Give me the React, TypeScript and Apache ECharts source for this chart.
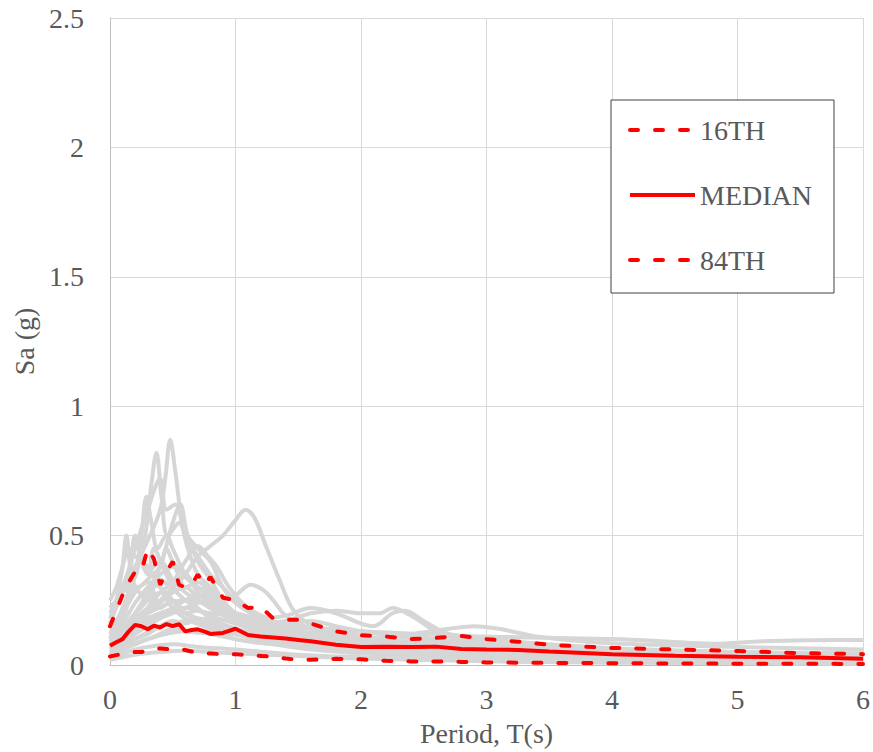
import React, { useEffect, useRef } from "react";
import * as echarts from "echarts";

// Shared periods (s) for the statistic curves
const PERIODS = [0, 0.05, 0.1, 0.15, 0.2, 0.25, 0.3, 0.35, 0.4, 0.45, 0.5, 0.55, 0.6, 0.65, 0.7, 0.75, 0.8, 0.9, 1.0, 1.1, 1.2, 1.3, 1.4, 1.5, 1.6, 1.8, 2.0, 2.2, 2.4, 2.6, 2.8, 3.0, 3.25, 3.5, 4.0, 4.5, 5.0, 5.5, 6.0];

const P84 = [0.15, 0.21, 0.27, 0.32, 0.36, 0.36, 0.45, 0.41, 0.31, 0.36, 0.40, 0.31, 0.30, 0.31, 0.35, 0.31, 0.34, 0.26, 0.25, 0.22, 0.225, 0.18, 0.175, 0.175, 0.16, 0.13, 0.115, 0.11, 0.10, 0.105, 0.112, 0.10, 0.09, 0.078, 0.066, 0.06, 0.054, 0.046, 0.042];
const MEDIAN = [0.074, 0.088, 0.1, 0.13, 0.155, 0.15, 0.138, 0.152, 0.145, 0.158, 0.15, 0.158, 0.13, 0.135, 0.138, 0.13, 0.12, 0.124, 0.14, 0.116, 0.11, 0.106, 0.102, 0.097, 0.092, 0.078, 0.07, 0.071, 0.07, 0.071, 0.062, 0.06, 0.058, 0.052, 0.042, 0.036, 0.032, 0.03, 0.024];
const P16 = [0.033, 0.038, 0.043, 0.048, 0.05, 0.05, 0.056, 0.06, 0.064, 0.062, 0.06, 0.062, 0.058, 0.052, 0.048, 0.045, 0.044, 0.042, 0.042, 0.038, 0.035, 0.032, 0.025, 0.02, 0.02, 0.024, 0.022, 0.016, 0.014, 0.014, 0.012, 0.01, 0.009, 0.008, 0.007, 0.006, 0.005, 0.005, 0.004];

// Individual ground-motion spectra: [period, Sa]
const GRAY_RECORDS: number[][][] = [
  [[0,0.16],[0.1,0.28],[0.2,0.38],[0.3,0.48],[0.4,0.6],[0.44,0.72],[0.48,0.87],[0.52,0.75],[0.58,0.55],[0.7,0.4],[0.8,0.33],[0.9,0.25],[1.0,0.2],[1.2,0.15],[1.5,0.11],[2.0,0.08],[2.5,0.06],[3,0.05],[4,0.035],[5,0.025],[6,0.02]],
  [[0,0.12],[0.1,0.22],[0.2,0.35],[0.28,0.5],[0.33,0.7],[0.37,0.82],[0.41,0.65],[0.46,0.5],[0.55,0.55],[0.62,0.45],[0.7,0.35],[0.8,0.3],[0.9,0.22],[1.0,0.18],[1.2,0.14],[1.5,0.1],[2,0.07],[2.5,0.055],[3,0.045],[4,0.03],[5,0.022],[6,0.018]],
  [[0,0.2],[0.1,0.3],[0.2,0.45],[0.3,0.6],[0.4,0.72],[0.45,0.6],[0.52,0.62],[0.6,0.5],[0.7,0.42],[0.8,0.35],[0.9,0.3],[1.0,0.25],[1.2,0.18],[1.4,0.14],[1.7,0.11],[2,0.09],[2.5,0.07],[3,0.06],[4,0.04],[5,0.03],[6,0.025]],
  [[0,0.08],[0.1,0.12],[0.2,0.18],[0.3,0.22],[0.4,0.25],[0.5,0.3],[0.6,0.35],[0.7,0.42],[0.8,0.46],[0.9,0.5],[1.0,0.56],[1.08,0.6],[1.15,0.57],[1.25,0.45],[1.35,0.33],[1.45,0.22],[1.55,0.17],[1.7,0.14],[2,0.11],[2.5,0.08],[3,0.06],[4,0.045],[5,0.035],[6,0.03]],
  [[0,0.18],[0.05,0.25],[0.1,0.38],[0.13,0.5],[0.17,0.35],[0.22,0.3],[0.3,0.32],[0.4,0.3],[0.5,0.25],[0.6,0.2],[0.8,0.16],[1.0,0.12],[1.3,0.09],[1.6,0.07],[2,0.05],[2.5,0.04],[3,0.03],[4,0.02],[5,0.015],[6,0.012]],
  [[0,0.1],[0.1,0.18],[0.2,0.35],[0.25,0.5],[0.29,0.65],[0.33,0.55],[0.38,0.45],[0.45,0.5],[0.5,0.45],[0.6,0.35],[0.7,0.3],[0.8,0.28],[0.9,0.22],[1,0.18],[1.2,0.13],[1.5,0.1],[2,0.07],[2.5,0.05],[3,0.04],[4,0.03],[5,0.02],[6,0.016]],
  [[0,0.09],[0.1,0.14],[0.2,0.2],[0.3,0.28],[0.4,0.38],[0.5,0.55],[0.56,0.62],[0.62,0.5],[0.7,0.45],[0.8,0.4],[0.9,0.3],[1.0,0.24],[1.2,0.18],[1.4,0.14],[1.7,0.1],[2,0.08],[2.5,0.06],[3,0.05],[4,0.035],[5,0.025],[6,0.02]],
  [[0,0.07],[0.1,0.1],[0.2,0.15],[0.3,0.22],[0.4,0.28],[0.5,0.32],[0.6,0.4],[0.7,0.46],[0.78,0.42],[0.85,0.38],[0.95,0.3],[1.1,0.22],[1.3,0.17],[1.5,0.13],[1.8,0.1],[2.2,0.08],[2.6,0.06],[3,0.05],[4,0.035],[5,0.025],[6,0.02]],
  [[0,0.06],[0.1,0.08],[0.2,0.12],[0.3,0.15],[0.4,0.18],[0.5,0.2],[0.6,0.22],[0.7,0.24],[0.8,0.25],[0.9,0.26],[1.0,0.27],[1.12,0.31],[1.22,0.29],[1.3,0.25],[1.4,0.19],[1.55,0.15],[1.8,0.12],[2.1,0.1],[2.5,0.08],[3,0.06],[4,0.045],[5,0.035],[6,0.03]],
  [[0,0.05],[0.2,0.1],[0.4,0.15],[0.6,0.17],[0.8,0.18],[1.0,0.17],[1.2,0.16],[1.4,0.17],[1.6,0.2],[1.8,0.21],[2.0,0.2],[2.15,0.2],[2.25,0.22],[2.4,0.19],[2.6,0.13],[2.8,0.1],[3.0,0.09],[3.5,0.07],[4,0.06],[5,0.045],[6,0.035]],
  [[0,0.08],[0.2,0.14],[0.4,0.2],[0.6,0.22],[0.8,0.2],[1.0,0.19],[1.2,0.18],[1.4,0.19],[1.6,0.22],[1.8,0.2],[2.0,0.16],[2.1,0.15],[2.25,0.2],[2.35,0.21],[2.5,0.17],[2.7,0.12],[3,0.1],[3.5,0.08],[4,0.065],[5,0.05],[6,0.04]],
  [[0,0.04],[0.3,0.1],[0.6,0.13],[1.0,0.12],[1.5,0.11],[2.0,0.1],[2.4,0.12],[2.7,0.14],[2.9,0.15],[3.1,0.14],[3.4,0.11],[3.8,0.09],[4.2,0.08],[5,0.07],[6,0.06]],
  [[0,0.1],[0.3,0.2],[0.6,0.25],[1.0,0.2],[1.5,0.15],[2,0.13],[2.5,0.12],[3,0.11],[3.5,0.105],[4,0.1],[4.4,0.092],[4.8,0.082],[5.2,0.092],[5.6,0.096],[6,0.097]],
  [[0,0.25],[0.05,0.3],[0.1,0.38],[0.15,0.45],[0.2,0.42],[0.3,0.38],[0.4,0.3],[0.5,0.25],[0.6,0.2],[0.8,0.15],[1.0,0.12],[1.3,0.09],[1.6,0.07],[2,0.055],[2.5,0.045],[3,0.035],[4,0.025],[5,0.02],[6,0.015]],
  [[0,0.22],[0.1,0.28],[0.2,0.34],[0.25,0.42],[0.3,0.36],[0.4,0.4],[0.5,0.33],[0.6,0.28],[0.7,0.25],[0.8,0.22],[1.0,0.17],[1.2,0.14],[1.5,0.11],[2,0.08],[2.5,0.06],[3,0.05],[4,0.04],[5,0.03],[6,0.025]],
  [[0,0.04],[0.1,0.06],[0.2,0.08],[0.3,0.1],[0.4,0.12],[0.5,0.14],[0.6,0.13],[0.8,0.12],[1.0,0.1],[1.3,0.08],[1.6,0.07],[2,0.05],[2.5,0.04],[3,0.03],[4,0.02],[5,0.015],[6,0.01]],
  [[0,0.03],[0.1,0.045],[0.2,0.06],[0.3,0.07],[0.5,0.08],[0.7,0.07],[1.0,0.06],[1.5,0.04],[2,0.03],[3,0.015],[4,0.01],[5,0.008],[6,0.006]],
  [[0,0.06],[0.1,0.1],[0.2,0.15],[0.3,0.2],[0.35,0.28],[0.4,0.22],[0.5,0.25],[0.6,0.2],[0.7,0.18],[0.8,0.16],[1.0,0.12],[1.2,0.1],[1.5,0.08],[2,0.06],[2.5,0.05],[3,0.04],[4,0.03],[5,0.02],[6,0.015]],
  [[0,0.09],[0.1,0.13],[0.2,0.2],[0.3,0.25],[0.4,0.33],[0.5,0.3],[0.6,0.35],[0.7,0.28],[0.8,0.24],[0.9,0.2],[1.0,0.18],[1.2,0.15],[1.5,0.12],[1.8,0.1],[2.2,0.08],[2.6,0.065],[3,0.055],[4,0.04],[5,0.03],[6,0.025]],
  [[0,0.05],[0.1,0.07],[0.2,0.1],[0.3,0.12],[0.4,0.15],[0.5,0.17],[0.6,0.16],[0.7,0.18],[0.8,0.17],[1.0,0.14],[1.2,0.12],[1.5,0.1],[1.8,0.09],[2,0.085],[2.5,0.07],[3,0.06],[3.5,0.05],[4,0.04],[5,0.03],[6,0.025]],
  [[0,0.12],[0.1,0.18],[0.15,0.25],[0.2,0.3],[0.25,0.27],[0.3,0.25],[0.4,0.28],[0.5,0.22],[0.6,0.18],[0.8,0.14],[1.0,0.1],[1.3,0.08],[1.6,0.06],[2,0.045],[2.5,0.035],[3,0.03],[4,0.02],[5,0.015],[6,0.012]],
  [[0,0.07],[0.1,0.1],[0.2,0.14],[0.3,0.18],[0.4,0.2],[0.5,0.22],[0.6,0.25],[0.7,0.27],[0.8,0.25],[0.9,0.22],[1.0,0.2],[1.2,0.17],[1.4,0.16],[1.6,0.17],[1.8,0.15],[2,0.13],[2.3,0.11],[2.6,0.09],[3,0.075],[3.5,0.06],[4,0.05],[5,0.04],[6,0.035]],
  [[0,0.02],[0.1,0.03],[0.2,0.04],[0.4,0.05],[0.6,0.055],[0.8,0.05],[1.0,0.045],[1.5,0.035],[2,0.025],[3,0.015],[4,0.01],[5,0.007],[6,0.005]],
  [[0,0.14],[0.1,0.2],[0.2,0.28],[0.3,0.33],[0.4,0.38],[0.45,0.45],[0.5,0.4],[0.6,0.34],[0.7,0.3],[0.8,0.26],[0.9,0.24],[1.0,0.2],[1.2,0.16],[1.5,0.12],[1.7,0.13],[1.9,0.12],[2.2,0.1],[2.6,0.08],[3,0.065],[4,0.045],[5,0.035],[6,0.03]],
  [[0,0.08],[0.1,0.12],[0.2,0.16],[0.3,0.2],[0.4,0.24],[0.5,0.28],[0.6,0.3],[0.7,0.26],[0.8,0.22],[1.0,0.18],[1.2,0.16],[1.4,0.15],[1.6,0.14],[1.8,0.14],[2.0,0.13],[2.3,0.12],[2.6,0.1],[3,0.085],[3.5,0.07],[4,0.06],[4.5,0.055],[5,0.05],[6,0.045]],
  [[0,0.1],[0.1,0.2],[0.15,0.3],[0.2,0.5],[0.25,0.4],[0.3,0.35],[0.35,0.45],[0.42,0.38],[0.5,0.3],[0.6,0.25],[0.7,0.22],[0.8,0.18],[1.0,0.14],[1.3,0.1],[1.6,0.08],[2,0.06],[2.5,0.05],[3,0.04],[4,0.03],[5,0.02],[6,0.015]],
  [[0,0.11],[0.1,0.16],[0.2,0.24],[0.3,0.3],[0.4,0.35],[0.5,0.38],[0.6,0.3],[0.7,0.32],[0.8,0.28],[0.9,0.23],[1.0,0.2],[1.2,0.16],[1.5,0.13],[1.8,0.11],[2.2,0.09],[2.6,0.075],[3,0.065],[4,0.05],[5,0.04],[6,0.035]],
  [[0,0.06],[0.1,0.09],[0.2,0.12],[0.3,0.16],[0.4,0.19],[0.5,0.21],[0.6,0.2],[0.7,0.21],[0.8,0.19],[1.0,0.16],[1.2,0.13],[1.5,0.11],[1.8,0.1],[2.1,0.09],[2.5,0.08],[3,0.07],[3.5,0.06],[4,0.05],[5,0.04],[6,0.03]],
];

const X_TICKS = { min: 0, max: 6, interval: 1 };
const Y_TICKS = { min: 0, max: 2.5, interval: 0.5 };

const FONT = "Liberation Serif";
const TEXT_COLOR = "#595959";

export default function App() {
  const ref = useRef<HTMLDivElement>(null);

  useEffect(() => {
    if (!ref.current) return;
    const chart = echarts.init(ref.current, null, { renderer: "svg" });

    const pair = (vals: number[]) => PERIODS.map((p, i) => [p, vals[i]]);

    const graySeries = GRAY_RECORDS.map((rec, i) => ({
      name: "GM" + (i + 1),
      type: "line",
      data: rec,
      smooth: 0.35,
      symbol: "none",
      silent: true,
      lineStyle: { color: "#d6d6d6", width: 4 },
      z: 2,
    }));

    const redDash = { color: "#ff0000", width: 4, type: [8, 17], cap: "round" };

    const option: any = {
      animation: false,
      textStyle: { fontFamily: FONT },
      grid: { left: 110, right: 7, top: 18, bottom: 86, containLabel: false },
      legend: {
        data: ["16TH", "MEDIAN", "84TH"],
        orient: "vertical",
        left: 611,
        top: 100,
        itemWidth: 65,
        itemHeight: 28,
        itemGap: 37,
        padding: [16, 22, 19, 17],
        borderColor: "#404040",
        borderWidth: 1,
        backgroundColor: "#ffffff",
        itemStyle: { color: "rgba(0,0,0,0)", borderWidth: 0, opacity: 0 },
        lineStyle: { width: 4 },
        textStyle: { fontFamily: FONT, fontSize: 28, color: TEXT_COLOR, lineHeight: 28 },
      },
      xAxis: {
        type: "value",
        ...X_TICKS,
        name: "Period, T(s)",
        nameLocation: "middle",
        nameGap: 54,
        nameTextStyle: { fontFamily: FONT, fontSize: 28, color: TEXT_COLOR },
        axisLine: { show: true, onZero: false, lineStyle: { color: "#bfbfbf", width: 1 } },
        axisTick: { show: false },
        axisLabel: { fontFamily: FONT, fontSize: 28, color: TEXT_COLOR, margin: 20 },
        splitLine: { show: true, lineStyle: { color: "#d9d9d9", width: 1 } },
      },
      yAxis: {
        type: "value",
        ...Y_TICKS,
        name: "Sa (g)",
        nameLocation: "middle",
        nameRotate: 90,
        nameGap: 70,
        nameTextStyle: { fontFamily: FONT, fontSize: 28, color: TEXT_COLOR },
        axisLine: { show: true, lineStyle: { color: "#bfbfbf", width: 1 } },
        axisTick: { show: false },
        axisLabel: { fontFamily: FONT, fontSize: 28, color: TEXT_COLOR, margin: 26 },
        splitLine: { show: true, lineStyle: { color: "#d9d9d9", width: 1 } },
      },
      series: [
        ...graySeries,
        {
          name: "16TH",
          type: "line",
          data: pair(P16),
          symbol: "none",
          lineStyle: redDash,
          itemStyle: { color: "#ff0000" },
          z: 5,
        },
        {
          name: "MEDIAN",
          type: "line",
          data: pair(MEDIAN),
          symbol: "none",
          lineStyle: { color: "#ff0000", width: 4 },
          itemStyle: { color: "#ff0000" },
          z: 5,
        },
        {
          name: "84TH",
          type: "line",
          data: pair(P84),
          symbol: "none",
          lineStyle: redDash,
          itemStyle: { color: "#ff0000" },
          z: 5,
        },
      ],
    };

    chart.setOption(option);
    return () => chart.dispose();
  }, []);

  return (
    <div
      ref={ref}
      style={{ position: "absolute", left: 0, top: 0, width: 873, height: 752, background: "#ffffff" }}
    />
  );
}
